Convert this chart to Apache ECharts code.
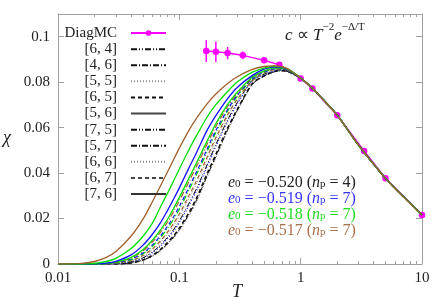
<!DOCTYPE html>
<html><head><meta charset="utf-8">
<script src="https://cdn.jsdelivr.net/npm/echarts@6/dist/echarts.min.js"></script>
<style>html,body{margin:0;padding:0;background:#fff}#c{width:436px;height:306px}</style>
</head><body><div id="c"></div>
<script>
// ---------- data ----------
const T_GRID = [0.01, 0.015, 0.02, 0.025, 0.03, 0.04, 0.05, 0.06, 0.07, 0.08, 0.09, 0.1, 0.12, 0.14, 0.17, 0.2, 0.25, 0.3, 0.4, 0.5, 0.6, 0.7, 0.8];
const T_TAIL = [1, 1.25, 1.5, 2, 3, 5, 7, 10];
const CHI_TAIL = [0.0818, 0.0773, 0.0729, 0.0655, 0.0523, 0.0377, 0.0297, 0.0216];

const CHI_BROWN_A = [0, 0.0002, 0.0011, 0.0029, 0.0055, 0.0122, 0.0196, 0.0274, 0.0344, 0.0406, 0.0461, 0.0510, 0.0588, 0.0645, 0.0706, 0.0748, 0.0794, 0.0824, 0.0856, 0.0869, 0.0872, 0.0868, 0.0856];
const CHI_GREEN_A = [0, 0, 0.0003, 0.0011, 0.0025, 0.0068, 0.0121, 0.0180, 0.0252, 0.0312, 0.0367, 0.0418, 0.0503, 0.0569, 0.0648, 0.0701, 0.0759, 0.0801, 0.0844, 0.0862, 0.0870, 0.0867, 0.0855];
const CHI_BLUE_A = [0, 0, 0.0001, 0.0004, 0.0012, 0.0040, 0.0082, 0.0131, 0.0182, 0.0236, 0.0287, 0.0335, 0.0423, 0.0495, 0.0590, 0.0653, 0.0728, 0.0777, 0.0830, 0.0857, 0.0866, 0.0865, 0.0854];
const CHI_GREEN_B = [0, 0, 0, 0.0003, 0.0008, 0.0029, 0.0063, 0.0105, 0.0150, 0.0197, 0.0246, 0.0293, 0.0377, 0.0450, 0.0543, 0.0617, 0.0702, 0.0756, 0.0823, 0.0850, 0.0862, 0.0863, 0.0853];
const CHI_BROWN_B = [0, 0, 0, 0.0002, 0.0006, 0.0026, 0.0057, 0.0097, 0.0140, 0.0185, 0.0232, 0.0278, 0.0362, 0.0435, 0.0529, 0.0605, 0.0693, 0.0749, 0.0819, 0.0848, 0.0860, 0.0862, 0.0852];
const CHI_BLUE_B = [0, 0, 0, 0.0001, 0.0005, 0.0022, 0.0048, 0.0084, 0.0124, 0.0167, 0.0209, 0.0253, 0.0337, 0.0410, 0.0507, 0.0588, 0.0679, 0.0743, 0.0815, 0.0845, 0.0858, 0.0860, 0.0851];
const CHI_GREEN_C = [0, 0, 0, 0.0001, 0.0004, 0.0019, 0.0044, 0.0078, 0.0116, 0.0157, 0.0198, 0.0241, 0.0325, 0.0398, 0.0496, 0.0578, 0.0673, 0.0738, 0.0812, 0.0844, 0.0857, 0.0860, 0.0851];
const CHI_BROWN_C = [0, 0, 0, 0, 0.0003, 0.0015, 0.0037, 0.0067, 0.0102, 0.0141, 0.0180, 0.0220, 0.0301, 0.0371, 0.0472, 0.0556, 0.0657, 0.0725, 0.0806, 0.0840, 0.0855, 0.0858, 0.0850];
const CHI_GRAY_A = [0, 0, 0, 0, 0.0002, 0.0013, 0.0033, 0.0061, 0.0095, 0.0132, 0.0170, 0.0209, 0.0289, 0.0359, 0.0460, 0.0546, 0.0649, 0.0719, 0.0803, 0.0838, 0.0854, 0.0857, 0.0850];
const CHI_BLACK_A = [0, 0, 0, 0, 0.0001, 0.0010, 0.0027, 0.0053, 0.0084, 0.0118, 0.0153, 0.0190, 0.0267, 0.0337, 0.0439, 0.0526, 0.0634, 0.0710, 0.0809, 0.0835, 0.0850, 0.0855, 0.0848];
const CHI_BLUE_C = [0, 0, 0, 0, 0.0001, 0.0009, 0.0025, 0.0049, 0.0079, 0.0112, 0.0146, 0.0182, 0.0258, 0.0328, 0.0430, 0.0517, 0.0627, 0.0704, 0.0806, 0.0833, 0.0849, 0.0854, 0.0848];
const CHI_BLACK_B = [0, 0, 0, 0, 0, 0.0005, 0.0018, 0.0038, 0.0064, 0.0094, 0.0125, 0.0158, 0.0226, 0.0295, 0.0399, 0.0482, 0.0598, 0.0680, 0.0794, 0.0828, 0.0846, 0.0851, 0.0845];
const CHI_BLACK_C = [0, 0, 0, 0, 0, 0.0005, 0.0017, 0.0036, 0.0060, 0.0089, 0.0119, 0.0151, 0.0218, 0.0286, 0.0390, 0.0474, 0.0591, 0.0675, 0.0791, 0.0827, 0.0845, 0.0851, 0.0845];
const CHI_GRAY_B = [0, 0, 0, 0, 0, 0.0004, 0.0015, 0.0033, 0.0056, 0.0084, 0.0113, 0.0145, 0.0210, 0.0278, 0.0382, 0.0466, 0.0585, 0.0670, 0.0789, 0.0826, 0.0844, 0.0850, 0.0844];

const DMC_T = [0.1667, 0.2, 0.25, 0.3333, 0.5, 0.6667, 1, 1.25, 2, 3.333, 5, 10];
const DMC_CHI = [0.0937, 0.0934, 0.0928, 0.0918, 0.0896, 0.0877, 0.0816, 0.0772, 0.0655, 0.0497, 0.0377, 0.0216];
const DMC_ERR = [0.0048, 0.0045, 0.0027, 0.0017, 0.0011, 0.0009, 0.0004, 0.0003, 0.0002, 0.0002, 0.0002, 0.0002];

const LEGEND_NAMES = ['DiagMC', '[6, 4]', '[4, 6]', '[5, 5]', '[6, 5]', '[5, 6]', '[7, 5]', '[5, 7]', '[6, 6]', '[6, 7]', '[7, 6]'];
const X_TICKS = [0.01, 0.1, 1, 10];
const X_TICK_LABELS = ['0.01', '0.1', '1', '10'];
const X_MINOR = [0.02,0.03,0.04,0.05,0.06,0.07,0.08,0.09,0.2,0.3,0.4,0.5,0.6,0.7,0.8,0.9,2,3,4,5,6,7,8,9];
const Y_TICKS = [0, 0.02, 0.04, 0.06, 0.08, 0.1];
const Y_TICK_LABELS = ['0', '0.02', '0.04', '0.06', '0.08', '0.1'];

// ---------- styles ----------
const FONT = "Liberation Serif";
const BROWN = '#a0602c', GREEN = '#00dd00', BLUE = '#1010ff', BLACK = '#111111', GRAY = '#8a8a8a';
const DASHDOT2 = [6, 2, 1, 2, 1, 2], DASHDOT = [6, 2, 1, 2], DOT = [1, 2], DASH = [4, 3];

const join = vals => T_GRID.map((t, i) => [t, vals[i]]).concat(T_TAIL.map((t, i) => [t, CHI_TAIL[i]]));

const CURVES = [
  ['c13', CHI_GRAY_B, GRAY, DOT, 1],
  ['c12', CHI_BLACK_C, BLACK, DASHDOT, 1],
  ['c11', CHI_BLACK_B, BLACK, DASH, 1.6],
  ['c10', CHI_BLUE_C, BLUE, DOT, 1.2],
  ['c9', CHI_BLACK_A, BLACK, DASHDOT2, 1],
  ['c8', CHI_GRAY_A, GRAY, DOT, 1],
  ['c7', CHI_BROWN_C, BROWN, DASH, 1.2],
  ['c6', CHI_GREEN_C, GREEN, DASHDOT2, 1.2],
  ['c5', CHI_BLUE_B, BLUE, DASH, 1.2],
  ['c4', CHI_BROWN_B, BROWN, DASHDOT, 1.2],
  ['c3', CHI_GREEN_B, GREEN, 'solid', 1.3],
  ['c2', CHI_BLUE_A, BLUE, 'solid', 1.3],
  ['c1', CHI_GREEN_A, GREEN, 'solid', 1.3],
  ['c0', CHI_BROWN_A, BROWN, 'solid', 1.3]
];

const LEGEND_STYLES = [
  ['[6, 4]', DASHDOT2, 1, BLACK],
  ['[4, 6]', DASHDOT, 1, BLACK],
  ['[5, 5]', DOT, 1, GRAY],
  ['[6, 5]', DASH, 1, BLACK],
  ['[5, 6]', 'solid', 1, '#444'],
  ['[7, 5]', DASHDOT2, 1.8, BLACK],
  ['[5, 7]', DASHDOT, 1.8, BLACK],
  ['[6, 6]', DOT, 1, GRAY],
  ['[6, 7]', DASH, 1.4, '#444'],
  ['[7, 6]', 'solid', 1.8, '#333']
];

const series = [];
series.push({
  type: 'custom', name: 'err', xAxisIndex: 0, yAxisIndex: 0, z: 1, silent: true,
  data: DMC_T.map((t, i) => [t, DMC_CHI[i], DMC_ERR[i]]),
  encode: { x: 0, y: 1 },
  renderItem: (params, api) => {
    const t = api.value(0), c = api.value(1), e = api.value(2);
    const p1 = api.coord([t, c - e]), p2 = api.coord([t, c + e]);
    return { type: 'line', shape: { x1: p1[0], y1: p1[1], x2: p2[0], y2: p2[1] }, style: { stroke: '#ff00ff', lineWidth: 1.5 } };
  }
});
series.push({
  type: 'line', name: 'DiagMC', xAxisIndex: 0, yAxisIndex: 0, z: 1,
  data: DMC_T.map((t, i) => [t, DMC_CHI[i]]),
  symbol: 'circle', symbolSize: 6.5, color: '#ff00ff',
  lineStyle: { width: 1.5, color: '#ff00ff' }, itemStyle: { color: '#ff00ff' }
});
CURVES.forEach(([n, vals, col, type, w]) => {
  series.push({
    type: 'line', name: n, xAxisIndex: 0, yAxisIndex: 0, z: 2, data: join(vals),
    smooth: 0.3, showSymbol: false, symbol: 'none', color: col,
    lineStyle: { color: col, type: type, width: w }
  });
});
LEGEND_STYLES.forEach(([n, type, w, col]) => {
  series.push({
    type: 'line', name: n, xAxisIndex: 0, yAxisIndex: 0, data: [], symbol: 'none', color: col,
    lineStyle: { color: col, type: type, width: w }
  });
});

const legendData = LEGEND_NAMES.map(n => n === 'DiagMC' ? { name: n } :
  { name: n, itemStyle: { opacity: 0, color: 'rgba(0,0,0,0)', borderWidth: 0 } });

const axisCommon = {
  type: 'log', logBase: 10, min: 0.01, max: 10,
  splitLine: { show: false }, axisLine: { onZero: false, lineStyle: { color: '#a0a0a0', width: 1 } }
};
const fmtX = v => { const i = X_TICKS.findIndex(t => Math.abs(Math.log10(t) - Math.log10(v)) < 1e-6); return i >= 0 ? X_TICK_LABELS[i] : ''; };
const fmtY = v => { const i = Y_TICKS.findIndex(t => Math.abs(t - v) < 1e-9); return i >= 0 ? Y_TICK_LABELS[i] : ''; };

const txt = (size, italic, color) => ({ fontFamily: FONT, fontSize: size, fontStyle: italic ? 'italic' : 'normal', fill: color });

const option = {
  animation: false,
  backgroundColor: '#fff',
  textStyle: { fontFamily: FONT },
  grid: { left: 58, right: 14, top: 14, bottom: 42, containLabel: false },
  xAxis: [
    Object.assign({}, axisCommon, { position: 'bottom',
      axisTick: { inside: true, length: 6, lineStyle: { color: '#a0a0a0' } },
      axisLabel: { color: '#222', fontFamily: FONT, fontSize: 15, margin: 7, formatter: fmtX } }),
    Object.assign({}, axisCommon, { position: 'bottom', axisLine: { show: false, onZero: false },
      axisTick: { inside: true, length: 3, customValues: X_MINOR, lineStyle: { color: '#a0a0a0' } },
      axisLabel: { show: false } }),
    Object.assign({}, axisCommon, { position: 'top',
      axisTick: { inside: true, length: 6, lineStyle: { color: '#a0a0a0' } },
      axisLabel: { show: false } }),
    Object.assign({}, axisCommon, { position: 'top', axisLine: { show: false, onZero: false },
      axisTick: { inside: true, length: 3, customValues: X_MINOR, lineStyle: { color: '#a0a0a0' } },
      axisLabel: { show: false } })
  ],
  yAxis: [
    { type: 'value', min: 0, max: 0.11, interval: 0.02, position: 'left', splitLine: { show: false },
      axisLine: { show: true, onZero: false, lineStyle: { color: '#a0a0a0' } },
      axisTick: { show: true, inside: true, length: 6, lineStyle: { color: '#a0a0a0' } },
      axisLabel: { color: '#222', fontFamily: FONT, fontSize: 15, margin: 8, formatter: fmtY } },
    { type: 'value', min: 0, max: 0.11, interval: 0.02, position: 'right', splitLine: { show: false },
      axisLine: { show: true, onZero: false, lineStyle: { color: '#a0a0a0' } },
      axisTick: { show: true, inside: true, length: 6, lineStyle: { color: '#a0a0a0' } },
      axisLabel: { show: false } }
  ],
  legend: {
    orient: 'vertical', left: 59, top: 20, align: 'right', selectedMode: false,
    itemWidth: 35, itemHeight: 7, itemGap: 0, data: legendData,
    formatter: name => '{a|' + name + '}',
    textStyle: { fontFamily: FONT, fontSize: 15, color: '#222', lineHeight: 16.1,
      rich: { a: { fontFamily: FONT, fontSize: 15, color: '#222', width: 53, align: 'right', lineHeight: 16.1, padding: [0, 9, 0, 0] } } }
  },
  series: series,
  graphic: [
    { type: 'text', left: 3, top: 129, style: Object.assign({ text: 'χ' }, txt(18, true, '#222')) },
    { type: 'text', left: 232, top: 283, style: Object.assign({ text: 'T' }, txt(18, true, '#222')) },
    { type: 'text', left: 285, top: 22, style: Object.assign({
        text: '{i|c} {n|∝} {i|T}{s|−2}{i|e}{s|−Δ/T}',
        rich: {
          i: { fontFamily: FONT, fontSize: 17, fontStyle: 'italic', lineHeight: 22, verticalAlign: 'bottom', fill: '#222' },
          n: { fontFamily: FONT, fontSize: 17, lineHeight: 22, verticalAlign: 'bottom', fill: '#222' },
          s: { fontFamily: FONT, fontSize: 11, lineHeight: 12, verticalAlign: 'top', fontStyle: 'normal', fill: '#222' }
        } }, txt(17, false, '#222')) },
    ...[['−0.520', '4', '#222'], ['−0.519', '7', '#3535ff'], ['−0.518', '7', '#22dd22'], ['−0.517', '7', '#a8704a']].map((r, k) => ({
      type: 'text', left: 228, top: 175 + k * 15.9, style: Object.assign({
        text: '{i|e}{b|0}{t| = ' + r[0] + ' (}{i|n}{b|p}{t| = ' + r[1] + ')}',
        rich: {
          i: { fontFamily: FONT, fontSize: 16, fontStyle: 'italic', lineHeight: 15, verticalAlign: 'top', fill: r[2] },
          t: { fontFamily: FONT, fontSize: 16, lineHeight: 15, verticalAlign: 'top', fill: r[2] },
          b: { fontFamily: FONT, fontSize: 11, lineHeight: 10, verticalAlign: 'bottom', fill: r[2] }
        } }, txt(16, false, r[2])) }))
  ]
};

const chart = echarts.init(document.getElementById('c'));
chart.setOption(option);
</script>
</body></html>
